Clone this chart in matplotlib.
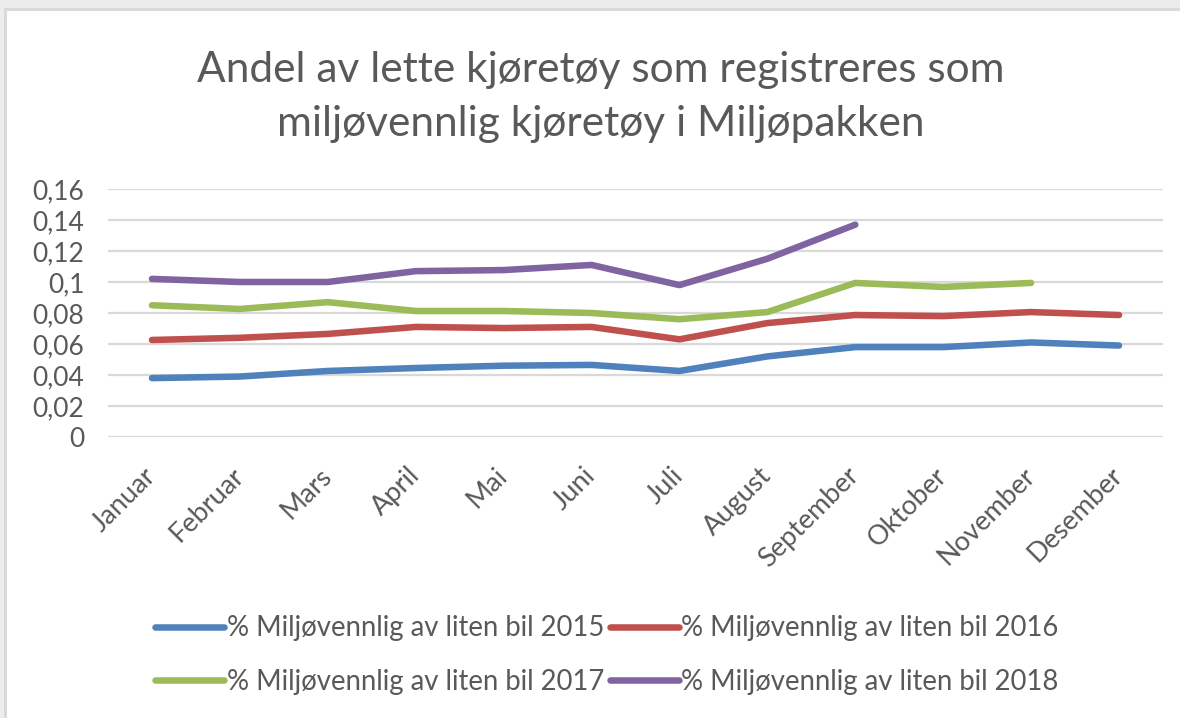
"""Andel miljøvennlige lette kjøretøy i Miljøpakken, 2015-2018 (Excel-stil linjediagram)."""
import matplotlib

matplotlib.use("Agg")
import matplotlib.pyplot as plt  # noqa: E402
from matplotlib.patches import Rectangle  # noqa: E402

months = ["Januar", "Februar", "Mars", "April", "Mai", "Juni", "Juli",
          "August", "September", "Oktober", "November", "Desember"]

share_2015 = [0.038, 0.039, 0.0426, 0.0445, 0.046, 0.0465, 0.0426,
              0.052, 0.058, 0.058, 0.061, 0.059]
share_2016 = [0.0626, 0.064, 0.0665, 0.071, 0.0703, 0.071, 0.063,
              0.0735, 0.0787, 0.078, 0.0806, 0.0787]
share_2017 = [0.085, 0.0826, 0.087, 0.0813, 0.0813, 0.080, 0.076,
              0.0806, 0.0994, 0.0968, 0.0994]
share_2018 = [0.102, 0.100, 0.100, 0.107, 0.1077, 0.111, 0.098,
              0.115, 0.137]

yticks = [0, 0.02, 0.04, 0.06, 0.08, 0.1, 0.12, 0.14, 0.16]
ytick_labels = ["0", "0,02", "0,04", "0,06", "0,08", "0,1", "0,12", "0,14", "0,16"]

series = [
    ("% Miljøvennlig av liten bil 2015", share_2015, "#4F81BD"),
    ("% Miljøvennlig av liten bil 2016", share_2016, "#C0504D"),
    ("% Miljøvennlig av liten bil 2017", share_2017, "#9BBB59"),
    ("% Miljøvennlig av liten bil 2018", share_2018, "#8064A2"),
]

TEXT = "#595959"
plt.rcParams["font.family"] = ["Lato", "DejaVu Sans"]

fig = plt.figure(figsize=(11.8, 7.18), dpi=100)
fig.patch.set_facecolor("#ececec")
# screenshot frame: grey edge, darker inner line, white chart area
fig.add_artist(Rectangle((4 / 1180, 0), 1, 1 - 8 / 718, transform=fig.transFigure,
                         facecolor="#d9d9d9", edgecolor="none", zorder=0))
fig.add_artist(Rectangle((7 / 1180, 0), 1, 1 - 11 / 718, transform=fig.transFigure,
                         facecolor="white", edgecolor="none", zorder=0))

ax = fig.add_axes([108 / 1180, 1 - 437 / 718, 1055 / 1180, 248 / 718])
ax.set_facecolor("none")

lines = {}
for label, vals, color in series:
    lines[label], = ax.plot(range(len(vals)), vals, color=color, lw=4.7, label=label,
                            solid_capstyle="round", solid_joinstyle="round", zorder=3)

ax.set_xlim(-0.5, len(months) - 0.5)
ax.set_ylim(0, 0.16)
ax.set_yticks(yticks)
ax.set_yticklabels(ytick_labels)
ax.set_xticks(range(len(months)))
ax.set_xticklabels(months, rotation=45, ha="right", va="center",
                   rotation_mode="anchor")
ax.grid(axis="y", color="#d9d9d9", lw=1.6, zorder=0)
ax.tick_params(axis="both", length=0, colors=TEXT, labelsize=19)
ax.tick_params(axis="x", pad=25, labelsize=19.5)
ax.tick_params(axis="y", pad=17)
for s in ax.spines.values():
    s.set_visible(False)

fig.text(601 / 1180, 1 - 70 / 718, "Andel av lette kjøretøy som registreres som",
         ha="center", va="center", fontsize=30.5, color=TEXT)
fig.text(601 / 1180, 1 - 124 / 718, "miljøvennlig kjøretøy i Miljøpakken",
         ha="center", va="center", fontsize=30.5, color=TEXT)

# legend fills column-wise; reorder so rows read 2015, 2016 / 2017, 2018
order = [series[0][0], series[2][0], series[1][0], series[3][0]]
fig.legend([lines[k] for k in order], order, loc="center",
           bbox_to_anchor=(607 / 1180, 1 - 655 / 718), ncol=2,
           frameon=False, fontsize=19.8, labelcolor=TEXT, handlelength=2.5,
           handletextpad=0.1, columnspacing=0.2, labelspacing=1.0)

fig.savefig("out.png", dpi=100, facecolor=fig.get_facecolor())
